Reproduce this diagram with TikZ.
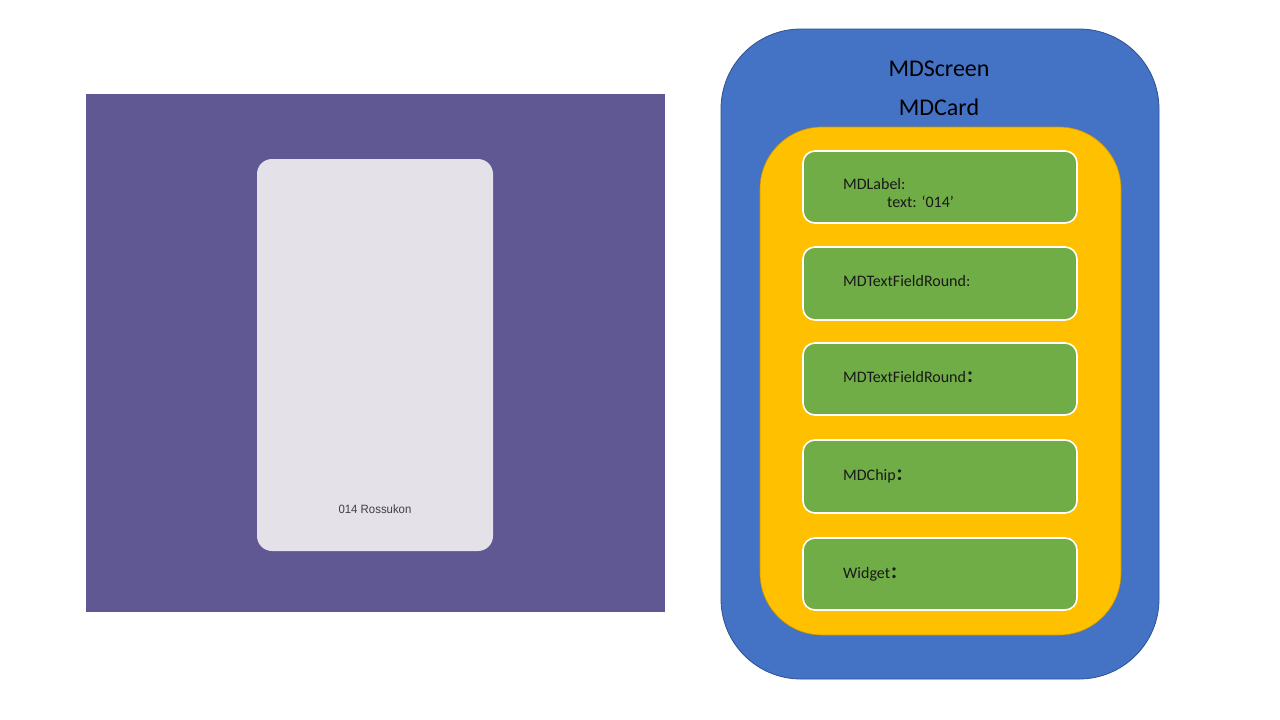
\documentclass[tikz,border=0pt]{standalone}
\usepackage{fontspec}
\setmainfont{Carlito}
\newfontfamily\cjk{Noto Sans CJK SC}
\newfontfamily\robo{Liberation Sans}
\definecolor{purp}{HTML}{5F5893}
\definecolor{cardc}{HTML}{E4E1E9}
\definecolor{blu}{HTML}{4472C4}
\definecolor{bluedge}{HTML}{2F528F}
\definecolor{yel}{HTML}{FFC000}
\definecolor{yeledge}{HTML}{C99700}
\definecolor{grn}{HTML}{70AD47}
\begin{document}
\begin{tikzpicture}[x=1pt,y=-1pt,
  gbox/.style={draw=white,line width=1.6pt,fill=grn,rounded corners=12pt},
  gtext/.style={anchor=west,font=\fontsize{16}{19}\selectfont,text=black!90,inner sep=0pt}]
\useasboundingbox (0,0) rectangle (1280,720);
\fill[white] (0,0) rectangle (1280,720);
% left mockup
\fill[purp] (86,94) rectangle (665,612);
\fill[cardc,rounded corners=15pt] (257,159) rectangle (493,551);
\node[font=\robo\fontsize{12}{14}\selectfont,text=black!75,xscale=0.95] (cardtext) at (375,509) {014 Rossukon};
% right structure
\filldraw[fill=blu,draw=bluedge,line width=0.8pt,rounded corners=80pt] (721,29) rectangle (1159,679);
\node[font=\fontsize{24}{27}\selectfont] (scr) at (939,69) {MDScreen};
\node[font=\fontsize{24}{27}\selectfont] (crd) at (939,107) {MDCard};
\filldraw[fill=yel,draw=yeledge,line width=0.6pt,rounded corners=62pt] (760,127) rectangle (1121,635);
\draw[gbox] (803,151) rectangle (1077,223);
\draw[gbox] (803,247) rectangle (1077,320);
\draw[gbox] (803,343) rectangle (1077,415);
\draw[gbox] (803,440) rectangle (1077,513);
\draw[gbox] (803,538) rectangle (1077,610);
\node[gtext] (l1) at (843,184) {MDLabel:};
\node[gtext] (l1b) at (887,202) {text: ‘014’};
\node[gtext] (l2) at (843,281) {MDTextFieldRound:};
\node[gtext] (l3) at (843,377) {MDTextFieldRound{\cjk\bfseries ：}};
\node[gtext] (l4) at (843,476) {MDChip{\cjk\bfseries ：}};
\node[gtext] (l5) at (843,574) {Widget{\cjk\bfseries ：}};
\end{tikzpicture}
\end{document}
